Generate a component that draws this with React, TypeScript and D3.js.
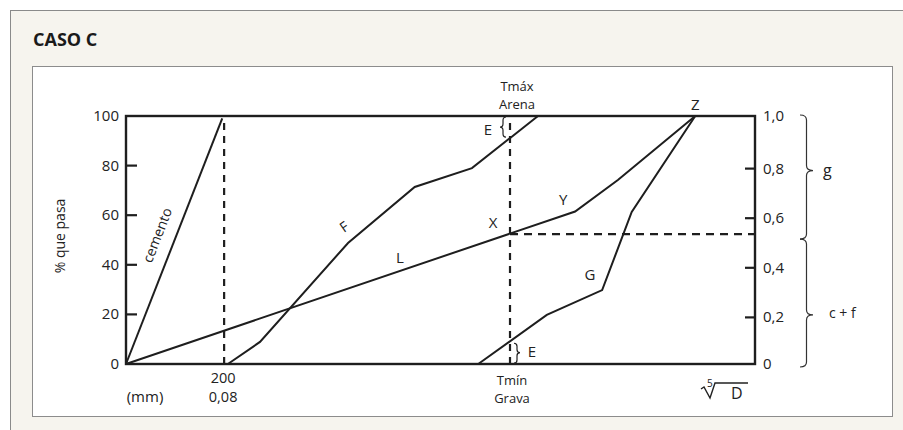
import React from "react";
import * as d3 from "d3";

// ---- data ----
const yTicks = [0, 20, 40, 60, 80, 100];
const leftTickLabels = ["0", "20", "40", "60", "80", "100"];
const rightTickLabels = ["0", "0,2", "0,4", "0,6", "0,8", "1,0"];

const cementoX = [0, 15.3];
const cementoY = [0, 99];
const lineLX = [0, 71.4, 78.2, 90.5];
const lineLY = [0, 61.5, 74.2, 100];
const curveFX = [16.2, 21.3, 35.3, 45.9, 55.0, 65.5];
const curveFY = [0, 8.9, 48.8, 71.4, 79.0, 100];
const curveGX = [56.0, 66.9, 75.7, 80.4, 90.5];
const curveGY = [0, 19.8, 29.8, 61.3, 100];

const sieve200X = 15.6;
const sieve200Top = 99;
const tLimitX = 61.05;
const pointXY = 52.4;
const pointYIdx = 1; // Y vertex on line L
const pointZ = [90.5, 100];
const braceGTip = 78;
const braceCFTip = 19.8;

// ---- layout ----
const W = 903;
const H = 430;
const PL = 126, PR = 755, PT = 116, PB = 364;
const FONT = "'Open Sans', 'Noto Sans', sans-serif";
const INK = "#1e1e1e";

const x = d3.scaleLinear().domain([0, 100]).range([PL, PR]);
const y = d3.scaleLinear().domain([0, 100]).range([PB, PT]);

const zip = (xs: number[], ys: number[]) => xs.map((v, i) => [v, ys[i]] as [number, number]);
const lineGen = d3.line<[number, number]>().x((d) => x(d[0])).y((d) => y(d[1]));

function interpAt(xs: number[], ys: number[], xv: number) {
  for (let i = 0; i < xs.length - 1; i++) {
    if (xv >= xs[i] && xv <= xs[i + 1]) {
      const t = (xv - xs[i]) / (xs[i + 1] - xs[i]);
      return ys[i] + t * (ys[i + 1] - ys[i]);
    }
  }
  return ys[ys.length - 1];
}

// vertical brace: ends at x0, tip at x0 + w (w can be negative)
function bracePath(x0: number, y1: number, y2: number, ym: number, w: number) {
  const xm = x0 + w / 2;
  const r = Math.min(5, Math.abs(ym - y1) / 3, Math.abs(y2 - ym) / 3);
  return `M${x0},${y1} Q${xm},${y1} ${xm},${y1 + r} L${xm},${ym - r} Q${xm},${ym} ${x0 + w},${ym} Q${xm},${ym} ${xm},${ym + r} L${xm},${y2 - r} Q${xm},${y2} ${x0},${y2}`;
}

export default function App() {
  const fAtT = interpAt(curveFX, curveFY, tLimitX);
  const gAtT = interpAt(curveGX, curveGY, tLimitX);
  const cemAngle = (Math.atan2(y(cementoY[1]) - y(cementoY[0]), x(cementoX[1]) - x(cementoX[0])) * 180) / Math.PI;
  const yPt = [lineLX[pointYIdx], lineLY[pointYIdx]];

  return (
    <svg width={W} height={H} style={{ position: "absolute", left: 0, top: 0, background: "#fff" }} fontFamily={FONT}>
      {/* outer frame & panel */}
      <rect x={10.5} y={10.5} width={W} height={H} fill="#f6f4ee" stroke="#8a8a8a" strokeWidth={1} />
      <text x={33} y={46} fontSize={18} fontWeight={700} fill="#1a1a1a">CASO C</text>
      <rect x={32.5} y={66.5} width={860} height={350} fill="#fff" stroke="#8c8c8c" strokeWidth={1} />

      {/* dashed guides */}
      <line x1={x(sieve200X)} x2={x(sieve200X)} y1={y(0)} y2={y(sieve200Top)} stroke={INK} strokeWidth={2.2} strokeDasharray="7,6" />
      <line x1={x(tLimitX)} x2={x(tLimitX)} y1={y(0)} y2={y(100)} stroke={INK} strokeWidth={2.2} strokeDasharray="7,6" />
      <line x1={x(tLimitX)} x2={x(100)} y1={y(pointXY)} y2={y(pointXY)} stroke={INK} strokeWidth={2.2} strokeDasharray="8,6" />

      {/* curves */}
      <path d={lineGen(zip(cementoX, cementoY)) || ""} fill="none" stroke={INK} strokeWidth={2} />
      <path d={lineGen(zip(lineLX, lineLY)) || ""} fill="none" stroke={INK} strokeWidth={2} />
      <path d={lineGen(zip(curveFX, curveFY)) || ""} fill="none" stroke={INK} strokeWidth={2} />
      <path d={lineGen(zip(curveGX, curveGY)) || ""} fill="none" stroke={INK} strokeWidth={2} />

      {/* frame */}
      <rect x={PL} y={PT} width={PR - PL} height={PB - PT} fill="none" stroke={INK} strokeWidth={2.4} />

      {/* left ticks */}
      {yTicks.map((t, i) => (
        <g key={"l" + t}>
          {t > 0 && t < 100 && <line x1={PL} x2={PL + 11} y1={y(t)} y2={y(t)} stroke={INK} strokeWidth={2.2} />}
          <text x={119} y={y(t) + 5} fontSize={15} textAnchor="end" fill="#222">{leftTickLabels[i]}</text>
        </g>
      ))}
      {/* right ticks */}
      {yTicks.map((t, i) => (
        <g key={"r" + t}>
          {t > 0 && t < 100 && <line x1={PR - 10} x2={PR} y1={y(t) + 3} y2={y(t) + 3} stroke={INK} strokeWidth={2.2} />}
          <text x={763} y={y(t) + 5 + (t > 0 && t < 100 ? 3 : 0)} fontSize={15} fill="#222">{rightTickLabels[i]}</text>
        </g>
      ))}

      {/* axis titles */}
      <text transform={`translate(65,${236}) rotate(-90)`} fontSize={14} textAnchor="middle" fill="#222">% que pasa</text>
      <text x={145} y={402} fontSize={15} textAnchor="middle" fill="#222">(mm)</text>
      <text x={x(sieve200X) - 1} y={383} fontSize={14.5} textAnchor="middle" fill="#222">200</text>
      <text x={x(sieve200X) - 1} y={402} fontSize={14.5} textAnchor="middle" fill="#222">0,08</text>
      <text x={x(tLimitX) + 7} y={91} fontSize={13} textAnchor="middle" fill="#222">Tmáx</text>
      <text x={x(tLimitX) + 7} y={109} fontSize={13} textAnchor="middle" fill="#222">Arena</text>
      <text x={x(tLimitX) + 2} y={385} fontSize={13} textAnchor="middle" fill="#222">Tmín</text>
      <text x={x(tLimitX) + 2} y={403} fontSize={13} textAnchor="middle" fill="#222">Grava</text>

      {/* fifth root of D */}
      <text x={707} y={387} fontSize={10} fill="#222">5</text>
      <path d="M701,389 L704,387 L710,398 L715,383 L748,383" fill="none" stroke="#222" strokeWidth={1.4} />
      <text x={731} y={399} fontSize={16} fill="#222">D</text>

      {/* curve labels */}
      <text transform={`translate(${x(cementoX[1] * 0.55) - 17},${y(cementoY[1] * 0.55) + 8}) rotate(${cemAngle})`} fontSize={14} textAnchor="middle" fill="#222">cemento</text>
      <text transform={`translate(347,231) rotate(-35)`} fontSize={14} textAnchor="middle" fill="#222">F</text>
      <text x={400} y={263} fontSize={15} textAnchor="middle" fill="#222">L</text>
      <text x={590} y={280} fontSize={15} textAnchor="middle" fill="#222">G</text>
      <text x={x(tLimitX) - 17} y={y(pointXY) - 6} fontSize={15} textAnchor="middle" fill="#222">X</text>
      <text x={x(yPt[0]) - 12} y={y(yPt[1]) - 6} fontSize={15} textAnchor="middle" fill="#222">Y</text>
      <text x={x(pointZ[0])} y={y(pointZ[1]) - 6} fontSize={15} textAnchor="middle" fill="#222">Z</text>

      {/* E braces */}
      <path d={bracePath(x(tLimitX) - 4, y(100) + 1, y(fAtT) - 1, (y(100) + y(fAtT)) / 2, -6)} fill="none" stroke="#222" strokeWidth={1.2} />
      <text x={x(tLimitX) - 22} y={y(100) + 19} fontSize={15} textAnchor="middle" fill="#222">E</text>
      <path d={bracePath(x(tLimitX) + 4, y(gAtT) + 2, y(0) - 1, (y(gAtT) + y(0)) / 2, 6)} fill="none" stroke="#222" strokeWidth={1.2} />
      <text x={x(tLimitX) + 22} y={y(0) - 7} fontSize={15} textAnchor="middle" fill="#222">E</text>

      {/* right braces */}
      <path d={bracePath(800, y(100) - 1, y(pointXY) + 5, y(braceGTip), 13)} fill="none" stroke="#333" strokeWidth={1.2} />
      <text x={823} y={y(braceGTip) + 5} fontSize={16} fill="#222">g</text>
      <path d={bracePath(800, y(pointXY) + 5, y(0) + 3, y(braceCFTip), 13)} fill="none" stroke="#333" strokeWidth={1.2} />
      <text x={829} y={y(braceCFTip) + 3} fontSize={14} fill="#222">c + f</text>
    </svg>
  );
}
